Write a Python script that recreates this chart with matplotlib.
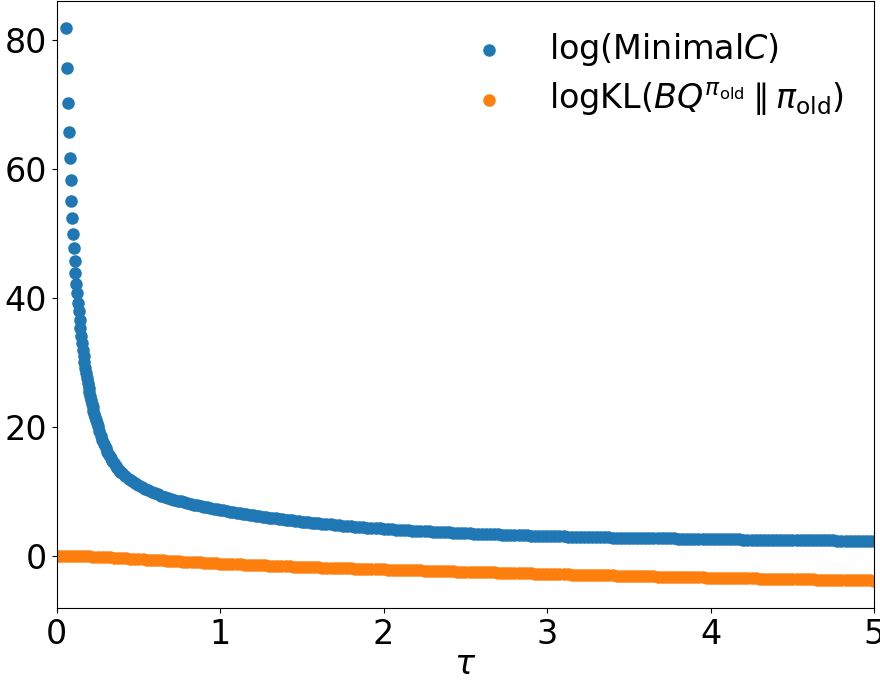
import matplotlib.pyplot as plt
import numpy as np

# tau samples and log(Minimal C), split by how steep the curve is
tau_c_head = [0.060, 0.065, 0.070, 0.075, 0.080, 0.085, 0.090, 0.095,
              0.100, 0.105, 0.110, 0.115, 0.120, 0.125, 0.130, 0.135]
logc_head = [81.8, 75.6, 70.3, 65.7, 61.8, 58.3, 55.1, 52.5,
             50.0, 47.8, 45.7, 43.9, 42.2, 40.8, 39.3, 38.0]

tau_c_knee = [0.140, 0.145, 0.150, 0.155, 0.160, 0.165, 0.170, 0.175,
              0.180, 0.185, 0.190, 0.195, 0.200, 0.205, 0.210, 0.215,
              0.220, 0.225, 0.230, 0.235, 0.240, 0.245, 0.250,
              0.26, 0.27, 0.28, 0.29, 0.30, 0.31, 0.32, 0.33,
              0.34, 0.35, 0.36, 0.37, 0.38, 0.39, 0.40]
logc_knee = [36.62, 35.34, 34.15, 33.03, 31.98, 31.00, 30.07, 29.19,
             28.37, 27.59, 26.85, 26.15, 25.48, 24.85, 24.24, 23.67,
             23.12, 22.59, 22.09, 21.61, 21.15, 20.70, 20.28,
             19.48, 18.74, 18.05, 17.41, 16.80, 16.25, 15.73, 15.25,
             14.82, 14.42, 14.05, 13.72, 13.42, 13.15, 12.90]

tau_c_mid = [0.42, 0.44, 0.46, 0.48, 0.50, 0.52, 0.54, 0.56, 0.58, 0.60,
             0.62, 0.64, 0.66, 0.68, 0.70, 0.72, 0.74, 0.76, 0.78, 0.80,
             0.82, 0.84, 0.86, 0.88, 0.90, 0.92, 0.94, 0.96, 0.98, 1.00,
             1.02, 1.04, 1.06, 1.08, 1.10, 1.12, 1.14, 1.16, 1.18, 1.20,
             1.22, 1.24, 1.26, 1.28, 1.30, 1.32, 1.34, 1.36, 1.38, 1.40,
             1.42, 1.44, 1.46, 1.48, 1.50, 1.52, 1.54, 1.56, 1.58, 1.60]
logc_mid = [12.44, 12.03, 11.66, 11.32, 11.01, 10.73, 10.47, 10.23, 10.01, 9.80,
            9.61, 9.43, 9.26, 9.10, 8.95, 8.80, 8.66, 8.53, 8.40, 8.28,
            8.16, 8.05, 7.94, 7.83, 7.72, 7.62, 7.52, 7.42, 7.32, 7.23,
            7.14, 7.05, 6.96, 6.88, 6.79, 6.71, 6.63, 6.55, 6.47, 6.39,
            6.31, 6.24, 6.17, 6.10, 6.03, 5.96, 5.89, 5.83, 5.76, 5.70,
            5.64, 5.58, 5.52, 5.46, 5.40, 5.35, 5.29, 5.24, 5.19, 5.14]

tau_c_tail = [1.625, 1.650, 1.675, 1.700, 1.725, 1.750, 1.775, 1.800, 1.825, 1.850,
              1.875, 1.900, 1.925, 1.950, 1.975, 2.000, 2.025, 2.050, 2.075, 2.100,
              2.125, 2.150, 2.175, 2.200, 2.225, 2.250, 2.275, 2.300, 2.325, 2.350,
              2.375, 2.400, 2.425, 2.450, 2.475, 2.500, 2.525, 2.550, 2.575, 2.600,
              2.625, 2.650, 2.675, 2.700, 2.725, 2.750, 2.775, 2.800, 2.825, 2.850,
              2.875, 2.900, 2.925, 2.950, 2.975, 3.000, 3.025, 3.050, 3.075, 3.100,
              3.125, 3.150, 3.175, 3.200, 3.225, 3.250, 3.275, 3.300, 3.325, 3.350,
              3.375, 3.400, 3.425, 3.450, 3.475, 3.500, 3.525, 3.550, 3.575, 3.600,
              3.625, 3.650, 3.675, 3.700, 3.725, 3.750, 3.775, 3.800, 3.825, 3.850,
              3.875, 3.900, 3.925, 3.950, 3.975, 4.000, 4.025, 4.050, 4.075, 4.100,
              4.125, 4.150, 4.175, 4.200, 4.225, 4.250, 4.275, 4.300, 4.325, 4.350,
              4.375, 4.400, 4.425, 4.450, 4.475, 4.500, 4.525, 4.550, 4.575, 4.600,
              4.625, 4.650, 4.675, 4.700, 4.725, 4.750, 4.775, 4.800, 4.825, 4.850,
              4.875, 4.900, 4.925, 4.950, 4.975, 5.000]
logc_tail = [5.08, 5.02, 4.96, 4.90, 4.84, 4.79, 4.73, 4.68, 4.63, 4.58,
             4.53, 4.48, 4.43, 4.39, 4.34, 4.30, 4.26, 4.22, 4.18, 4.14,
             4.10, 4.06, 4.02, 3.99, 3.95, 3.92, 3.88, 3.85, 3.82, 3.79,
             3.76, 3.73, 3.70, 3.67, 3.64, 3.61, 3.58, 3.56, 3.53, 3.51,
             3.48, 3.46, 3.43, 3.41, 3.39, 3.37, 3.35, 3.33, 3.31, 3.29,
             3.27, 3.25, 3.23, 3.21, 3.19, 3.17, 3.15, 3.14, 3.12, 3.11,
             3.09, 3.08, 3.06, 3.05, 3.03, 3.02, 3.00, 2.99, 2.98, 2.97,
             2.95, 2.94, 2.93, 2.92, 2.91, 2.90, 2.89, 2.88, 2.87, 2.86,
             2.85, 2.84, 2.83, 2.82, 2.81, 2.80, 2.79, 2.78, 2.77, 2.76,
             2.75, 2.74, 2.73, 2.72, 2.71, 2.70, 2.69, 2.68, 2.675, 2.67,
             2.66, 2.65, 2.64, 2.63, 2.625, 2.62, 2.61, 2.60, 2.595, 2.59,
             2.58, 2.57, 2.565, 2.56, 2.555, 2.55, 2.54, 2.53, 2.525, 2.52,
             2.515, 2.51, 2.505, 2.50, 2.49, 2.48, 2.475, 2.47, 2.465, 2.46,
             2.455, 2.45, 2.445, 2.44, 2.435, 2.43]

# tau samples and log KL(BQ || pi_old)
tau_kl = [0.010,
          0.025, 0.050, 0.075, 0.100, 0.125, 0.150, 0.175, 0.200, 0.225, 0.250,
          0.275, 0.300, 0.325, 0.350, 0.375, 0.400, 0.425, 0.450, 0.475, 0.500,
          0.525, 0.550, 0.575, 0.600, 0.625, 0.650, 0.675, 0.700, 0.725, 0.750,
          0.775, 0.800, 0.825, 0.850, 0.875, 0.900, 0.925, 0.950, 0.975, 1.000,
          1.025, 1.050, 1.075, 1.100, 1.125, 1.150, 1.175, 1.200, 1.225, 1.250,
          1.275, 1.300, 1.325, 1.350, 1.375, 1.400, 1.425, 1.450, 1.475, 1.500,
          1.525, 1.550, 1.575, 1.600, 1.625, 1.650, 1.675, 1.700, 1.725, 1.750,
          1.775, 1.800, 1.825, 1.850, 1.875, 1.900, 1.925, 1.950, 1.975, 2.000,
          2.025, 2.050, 2.075, 2.100, 2.125, 2.150, 2.175, 2.200, 2.225, 2.250,
          2.275, 2.300, 2.325, 2.350, 2.375, 2.400, 2.425, 2.450, 2.475, 2.500,
          2.525, 2.550, 2.575, 2.600, 2.625, 2.650, 2.675, 2.700, 2.725, 2.750,
          2.775, 2.800, 2.825, 2.850, 2.875, 2.900, 2.925, 2.950, 2.975, 3.000,
          3.025, 3.050, 3.075, 3.100, 3.125, 3.150, 3.175, 3.200, 3.225, 3.250,
          3.275, 3.300, 3.325, 3.350, 3.375, 3.400, 3.425, 3.450, 3.475, 3.500,
          3.525, 3.550, 3.575, 3.600, 3.625, 3.650, 3.675, 3.700, 3.725, 3.750,
          3.775, 3.800, 3.825, 3.850, 3.875, 3.900, 3.925, 3.950, 3.975, 4.000,
          4.025, 4.050, 4.075, 4.100, 4.125, 4.150, 4.175, 4.200, 4.225, 4.250,
          4.275, 4.300, 4.325, 4.350, 4.375, 4.400, 4.425, 4.450, 4.475, 4.500,
          4.525, 4.550, 4.575, 4.600, 4.625, 4.650, 4.675, 4.700, 4.725, 4.750,
          4.775, 4.800, 4.825, 4.850, 4.875, 4.900, 4.925, 4.950, 4.975, 5.000]
logkl = [0.10,
         0.10, 0.10, 0.09, 0.08, 0.07, 0.05, 0.03, 0.00, -0.03, -0.06,
         -0.09, -0.12, -0.15, -0.19, -0.22, -0.26, -0.29, -0.33, -0.36, -0.40,
         -0.43, -0.47, -0.51, -0.55, -0.58, -0.62, -0.66, -0.70, -0.73, -0.77,
         -0.80, -0.84, -0.87, -0.90, -0.93, -0.97, -1.00, -1.03, -1.06, -1.09,
         -1.12, -1.15, -1.18, -1.21, -1.24, -1.27, -1.29, -1.32, -1.34, -1.37,
         -1.39, -1.42, -1.44, -1.47, -1.49, -1.52, -1.54, -1.57, -1.59, -1.61,
         -1.63, -1.66, -1.68, -1.70, -1.72, -1.74, -1.76, -1.78, -1.80, -1.82,
         -1.84, -1.86, -1.88, -1.90, -1.92, -1.94, -1.95, -1.97, -1.99, -2.01,
         -2.03, -2.05, -2.06, -2.08, -2.10, -2.12, -2.13, -2.15, -2.17, -2.19,
         -2.20, -2.22, -2.24, -2.26, -2.27, -2.29, -2.31, -2.33, -2.34, -2.36,
         -2.38, -2.40, -2.41, -2.43, -2.44, -2.46, -2.48, -2.50, -2.51, -2.53,
         -2.54, -2.56, -2.58, -2.60, -2.61, -2.63, -2.65, -2.67, -2.68, -2.70,
         -2.71, -2.73, -2.74, -2.76, -2.77, -2.79, -2.80, -2.82, -2.83, -2.85,
         -2.86, -2.88, -2.89, -2.91, -2.92, -2.94, -2.95, -2.97, -2.98, -3.00,
         -3.01, -3.03, -3.04, -3.06, -3.07, -3.08, -3.10, -3.11, -3.12, -3.14,
         -3.15, -3.16, -3.18, -3.19, -3.20, -3.22, -3.23, -3.24, -3.26, -3.27,
         -3.28, -3.29, -3.31, -3.32, -3.33, -3.34, -3.35, -3.36, -3.38, -3.39,
         -3.40, -3.41, -3.42, -3.43, -3.45, -3.46, -3.47, -3.48, -3.49, -3.50,
         -3.51, -3.52, -3.54, -3.55, -3.56, -3.57, -3.58, -3.59, -3.60, -3.61,
         -3.62, -3.63, -3.65, -3.66, -3.67, -3.68, -3.69, -3.70, -3.71, -3.72]

tau_c = np.concatenate([tau_c_head, tau_c_knee, tau_c_mid, tau_c_tail])
logc = np.concatenate([logc_head, logc_knee, logc_mid, logc_tail])

fig = plt.figure(figsize=(8.8, 6.81), dpi=100)
ax = fig.add_axes([0.0644, 0.107, 0.929, 0.892])

ax.scatter(tau_c, logc, s=64, color="#1f77b4", label=r"log(Minimal$C$)")
ax.scatter(tau_kl, logkl, s=64, color="#ff7f0e",
           label=r"logKL($BQ^{\pi_{\rm old}}\parallel\pi_{\rm old}$)")

ax.set_xlim(0, 5)
ax.set_ylim(-8.0, 86.1)
ax.set_xticks([0, 1, 2, 3, 4, 5])
ax.set_yticks([0, 20, 40, 60, 80])
ax.tick_params(labelsize=24)
ax.set_xlabel(r"$\tau$", fontsize=24, labelpad=-2)
ax.legend(loc="upper right", fontsize=24, frameon=False, labelspacing=0.38)

fig.savefig("out.png", dpi=100)
